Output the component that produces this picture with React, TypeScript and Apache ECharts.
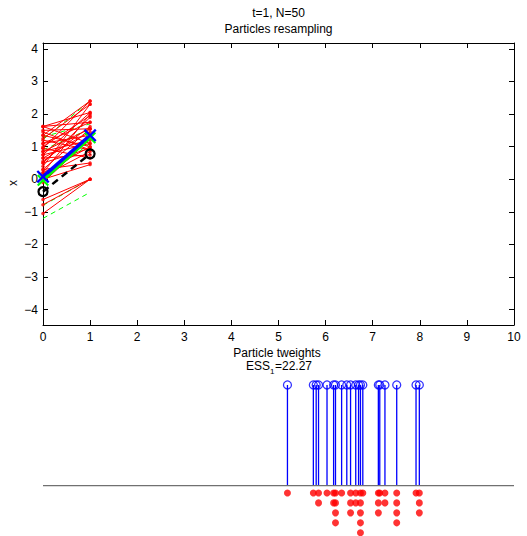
import React, { useEffect, useRef } from "react";
import * as echarts from "echarts";

// ---- data ----
const xTicks = [0, 1, 2, 3, 4, 5, 6, 7, 8, 9, 10];
const titleLines = ["t=1, N=50", "Particles resampling"];

// resampled particle connections (t=0 value -> t=1 value)
const redStart = [1.62, 1.62, 1.5, 1.35, 1.35, 1.25, 1.2, 1.1, 1.1, 0.95, 0.95, 0.85, 0.85, 0.75, 0.75, 0.65, 0.65, 0.5, 0.5, 0.4, 0.3, 0.3, 0.2, 0.1, -0.1, -0.62, -0.78, -1.05, 1.45, 0.0, 1.0, 0.55, 1.62, 0.2];
const redEnd = [2.05, 1.1, 1.55, 2.4, 1.0, 2.3, 0.9, 1.75, 1.35, 2.4, 0.65, 1.55, 1.2, 2.05, 1.1, 1.45, 0.75, 1.9, 0.95, 2.3, 1.55, 0.5, 1.0, 0.85, 1.25, 0.0, 0.0, 0.0, 0.9, 0.45, 1.95, 1.62, 1.75, 2.0];

// propagated particles (dashed green)
const greenStart = [-1.2, 1.22, 1.3, 0.05, -0.8, 0.9];
const greenEnd = [-0.4, 2.4, 1.7, 1.1, 0.0, 1.55];

const blueTrack = [0.08, 1.35];
const greenTrack = [-0.03, 1.27];
const blackTrack = [-0.38, 0.78];

// weights (stems) at particle positions
const stemX = [5.19, 5.74, 5.8, 5.85, 6.03, 6.17, 6.21, 6.34, 6.45, 6.53, 6.64, 6.7, 6.74, 6.79, 7.12, 7.15, 7.26, 7.51, 7.92, 7.99];
const stemW = [1, 1, 1, 1, 1, 1, 1, 1, 1, 1, 1, 1, 1, 1, 1, 1, 1, 1, 1, 1];
const dotCount = [1, 1, 0, 2, 1, 2, 4, 1, 0, 3, 2, 0, 5, 1, 3, 1, 2, 4, 1, 3];

const FONT = "Liberation Sans, Arial, Helvetica, sans-serif";
const X_SYMBOL =
  "path://M0,1.5L1.5,0L6,4.5L10.5,0L12,1.5L7.5,6L12,10.5L10.5,12L6,7.5L1.5,12L0,10.5L4.5,6Z";

export default function App() {
  const ref = useRef<HTMLDivElement>(null);

  useEffect(() => {
    document.body.style.margin = "0";
    const chart = echarts.init(ref.current!, null, { renderer: "svg" });

    const gx = 43,
      gw = 471;
    const axisColor = "#000";

    const dots: number[][] = [];
    stemX.forEach((x, i) => {
      for (let k = 1; k <= dotCount[i]; k++) dots.push([x, -k]);
    });

    const redEndPts: number[][] = [];
    redStart.forEach((s, i) => {
      redEndPts.push([0, s]);
      redEndPts.push([1, redEnd[i]]);
    });

    const option: any = {
      animation: false,
      grid: [
        { left: gx, top: 43, width: gw, height: 282 },
        { left: gx, top: 374.9, width: gw, height: 161.6 },
      ],
      xAxis: [
        {
          gridIndex: 0,
          type: "value",
          min: 0,
          max: 10,
          interval: 1,
          position: "bottom",
          axisLine: { onZero: false, lineStyle: { color: axisColor, width: 1 } },
          axisTick: { inside: true, length: 5, lineStyle: { color: axisColor } },
          axisLabel: { color: "#000", fontSize: 12, fontFamily: FONT, margin: 6 },
          splitLine: { show: false },
        },
        {
          gridIndex: 0,
          type: "value",
          min: 0,
          max: 10,
          interval: 1,
          position: "top",
          axisLine: { onZero: false, lineStyle: { color: axisColor, width: 1 } },
          axisTick: { inside: true, length: 5, lineStyle: { color: axisColor } },
          axisLabel: { show: false },
          splitLine: { show: false },
        },
        {
          gridIndex: 1,
          type: "value",
          min: 0,
          max: 10,
          show: false,
        },
      ],
      yAxis: [
        {
          gridIndex: 0,
          type: "value",
          min: -4.47,
          max: 4.18,
          minInterval: 1,
          maxInterval: 1,
          splitNumber: 8,
          position: "left",
          axisLine: { onZero: false, lineStyle: { color: axisColor, width: 1 } },
          axisTick: { inside: true, length: 5, lineStyle: { color: axisColor } },
          axisLabel: {
            color: "#000",
            fontSize: 12,
            fontFamily: FONT,
            margin: 5,
            showMinLabel: false,
            showMaxLabel: false,
            formatter: (v: number) => (v < 0 ? "\u2212" + Math.abs(v) : String(v)),
          },
          splitLine: { show: false },
        },
        {
          gridIndex: 0,
          type: "value",
          min: -4.47,
          max: 4.18,
          minInterval: 1,
          maxInterval: 1,
          splitNumber: 8,
          position: "right",
          axisLine: { onZero: false, lineStyle: { color: axisColor, width: 1 } },
          axisTick: { inside: true, length: 5, lineStyle: { color: axisColor } },
          axisLabel: { show: false },
          splitLine: { show: false },
        },
        { gridIndex: 1, type: "value", min: -0.5, max: 1.1, show: false },
        { gridIndex: 1, type: "value", min: -5.32, max: 10.84, show: false },
      ],
      series: [
        {
          type: "lines",
          coordinateSystem: "cartesian2d",
          xAxisIndex: 0,
          yAxisIndex: 0,
          silent: true,
          lineStyle: { color: "#00ff00", width: 1, type: [5, 4], opacity: 1 },
          data: greenStart.map((s, i) => ({ coords: [[0, s], [1, greenEnd[i]]] })),
        },
        {
          type: "lines",
          coordinateSystem: "cartesian2d",
          xAxisIndex: 0,
          yAxisIndex: 0,
          silent: true,
          lineStyle: { color: "#ff0000", width: 1, opacity: 1 },
          data: redStart.map((s, i) => ({ coords: [[0, s], [1, redEnd[i]]] })),
        },
        {
          type: "scatter",
          xAxisIndex: 0,
          yAxisIndex: 0,
          symbolSize: 3.5,
          itemStyle: { color: "#ff0000" },
          data: redEndPts,
        },
        {
          type: "line",
          xAxisIndex: 0,
          yAxisIndex: 0,
          data: [[0, greenTrack[0]], [1, greenTrack[1]]],
          lineStyle: { color: "#00ff00", width: 3 },
          symbol: X_SYMBOL,
          symbolSize: 12,
          itemStyle: { color: "#00ff00" },
        },
        {
          type: "line",
          xAxisIndex: 0,
          yAxisIndex: 0,
          data: [[0, blueTrack[0]], [1, blueTrack[1]]],
          lineStyle: { color: "#0000ff", width: 3.5 },
          symbol: X_SYMBOL,
          symbolSize: 13,
          itemStyle: { color: "#0000ff" },
        },
        {
          type: "line",
          xAxisIndex: 0,
          yAxisIndex: 0,
          data: [[0, blackTrack[0]], [1, blackTrack[1]]],
          lineStyle: { color: "#000", width: 2.5, type: [7, 5] },
          symbol: "circle",
          symbolSize: 9,
          itemStyle: { color: "rgba(0,0,0,0)", borderColor: "#000", borderWidth: 2.2 },
        },
        // bottom: baseline
        {
          type: "line",
          xAxisIndex: 2,
          yAxisIndex: 2,
          data: [[0, 0], [10, 0]],
          symbol: "none",
          lineStyle: { color: "#707070", width: 1.2 },
        },
        // stems
        {
          type: "custom",
          xAxisIndex: 2,
          yAxisIndex: 2,
          data: stemX.map((x, i) => [x, stemW[i]]),
          renderItem: (params: any, api: any) => {
            const x = api.value(0);
            const w = api.value(1);
            const p0 = api.coord([x, 0]);
            const p1 = api.coord([x, w]);
            return {
              type: "line",
              shape: { x1: p0[0], y1: p0[1], x2: p1[0], y2: p1[1] },
              style: { stroke: "#0000ff", lineWidth: 1.3 },
            };
          },
        },
        {
          type: "scatter",
          xAxisIndex: 2,
          yAxisIndex: 2,
          symbol: "circle",
          symbolSize: 8,
          itemStyle: { color: "rgba(0,0,0,0)", borderColor: "#0000ff", borderWidth: 1.3 },
          data: stemX.map((x, i) => [x, stemW[i]]),
        },
        {
          type: "scatter",
          xAxisIndex: 2,
          yAxisIndex: 3,
          symbol: "circle",
          symbolSize: 7,
          itemStyle: { color: "#ff0000" },
          data: dots,
        },
      ],
      graphic: [
        {
          type: "text",
          x: 278.5,
          y: 13,
          style: { text: titleLines[0], fill: "#000", font: `12px ${FONT}`, textAlign: "center", textVerticalAlign: "middle" },
        },
        {
          type: "text",
          x: 278.5,
          y: 29,
          style: { text: titleLines[1], fill: "#000", font: `12px ${FONT}`, textAlign: "center", textVerticalAlign: "middle" },
        },
        {
          type: "text",
          x: 13,
          y: 183,
          rotation: Math.PI / 2,
          style: { text: "x", fill: "#000", font: `12px ${FONT}`, textAlign: "center", textVerticalAlign: "middle" },
        },
        {
          type: "text",
          x: 277,
          y: 353,
          style: { text: "Particle tweights", fill: "#000", font: `12px ${FONT}`, textAlign: "center", textVerticalAlign: "middle" },
        },
        {
          type: "text",
          x: 270,
          y: 366,
          style: { text: "ESS", fill: "#000", font: `12px ${FONT}`, textAlign: "right", textVerticalAlign: "middle" },
        },
        {
          type: "text",
          x: 270,
          y: 371,
          style: { text: "1", fill: "#000", font: `8px ${FONT}`, textAlign: "left", textVerticalAlign: "middle" },
        },
        {
          type: "text",
          x: 275,
          y: 366,
          style: { text: "=22.27", fill: "#000", font: `12px ${FONT}`, textAlign: "left", textVerticalAlign: "middle" },
        },
      ],
    };

    chart.setOption(option);
    return () => chart.dispose();
  }, []);

  return <div ref={ref} style={{ width: 527, height: 536 }} />;
}
